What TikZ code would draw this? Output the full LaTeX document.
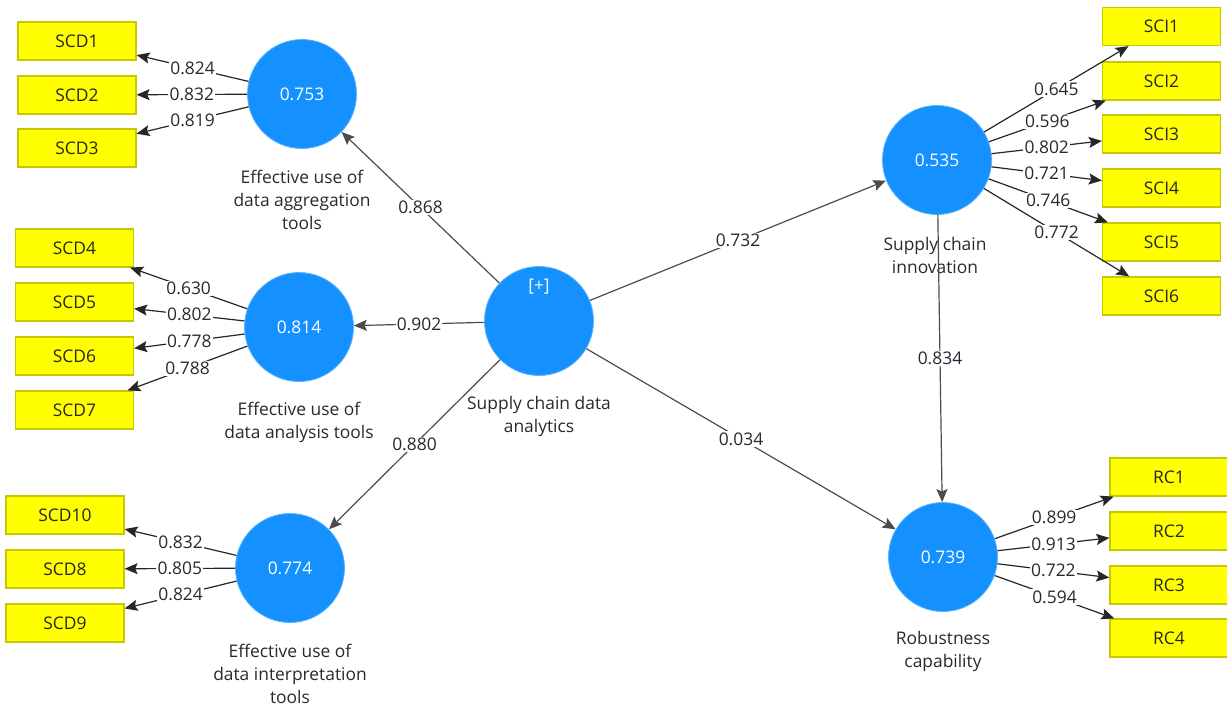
\documentclass[tikz,border=0pt]{standalone}
\usepackage{fontspec}
\setmainfont{Open Sans}
\usetikzlibrary{arrows.meta}
\definecolor{lvblue}{RGB}{20,145,255}
\definecolor{mvyellow}{RGB}{255,255,0}
\definecolor{mvborder}{RGB}{200,200,0}
\definecolor{txt}{RGB}{40,40,50}
\tikzset{
  lv/.style={circle, fill=lvblue, draw=lvblue!70!white, line width=0.4pt, minimum size=54.5pt, inner sep=0pt, text=white, font=\fontsize{8.7}{10}\selectfont},
  mv/.style={rectangle, fill=mvyellow, draw=mvborder, line width=0.6pt, minimum width=59pt, minimum height=19pt, inner sep=0pt, text=black!85, font=\fontsize{8.7}{10}\selectfont},
  lvcaption/.style={align=center, text=txt, font=\fontsize{8.7}{11.5}\selectfont, inner sep=0pt},
  lbl/.style={fill=white, inner sep=0.6pt, text=txt, font=\fontsize{8.7}{10}\selectfont},
  ld/.style={draw=black!85, line width=0.6pt, -{Stealth[length=6.5pt,width=5.5pt,inset=1.2pt]}},
  st/.style={draw=black!70, line width=0.6pt, -{Stealth[length=6.5pt,width=5.5pt,inset=1.2pt]}},
}
\begin{document}
\begin{tikzpicture}[x=0.5pt,y=-0.5pt]
\useasboundingbox (0,0) rectangle (1227,709);
% latent variables
\node[lv] (agg) at (302,94) {0.753};
\node[lv] (ana) at (299,327) {0.814};
\node[lv] (intp) at (290,568) {0.774};
\node[lv] (scda) at (539,321) {};
\node[lv] (sci) at (937,160) {0.535};
\node[lv] (rc) at (943,557) {0.739};
\node[text=white, font=\fontsize{8.7}{10}\selectfont] (plus) at (539,287) {[+]};
% captions
\node[lvcaption] (aggc) at (302,200) {Effective use of\\data aggregation\\tools};
\node[lvcaption] (anac) at (299,422) {Effective use of\\data analysis tools};
\node[lvcaption] (intpc) at (290,674) {Effective use of\\data interpretation\\tools};
\node[lvcaption] (scdac) at (539,416) {Supply chain data\\analytics};
\node[lvcaption] (scic) at (935,255) {Supply chain\\innovation};
\node[lvcaption] (rcc) at (943,651) {Robustness\\capability};
% indicators
\node[mv] (scd1) at (77,41) {SCD1};
\node[mv] (scd2) at (77,95) {SCD2};
\node[mv] (scd3) at (77,148) {SCD3};
\node[mv] (scd4) at (74.5,248) {SCD4};
\node[mv] (scd5) at (74.5,302) {SCD5};
\node[mv] (scd6) at (74.5,356) {SCD6};
\node[mv] (scd7) at (74.5,410) {SCD7};
\node[mv] (scd10) at (65,515) {SCD10};
\node[mv] (scd8) at (65,569) {SCD8};
\node[mv] (scd9) at (65,623) {SCD9};
\node[mv] (sci1) at (1161.5,26.5) {SCI1};
\node[mv] (sci2) at (1161.5,81) {SCI2};
\node[mv] (sci3) at (1161.5,134) {SCI3};
\node[mv] (sci4) at (1161.5,188) {SCI4};
\node[mv] (sci5) at (1161.5,242) {SCI5};
\node[mv] (sci6) at (1161.5,296) {SCI6};
\node[mv] (rc1) at (1169,477) {RC1};
\node[mv] (rc2) at (1169,531) {RC2};
\node[mv] (rc3) at (1169,585) {RC3};
\node[mv] (rc4) at (1169,638) {RC4};
% outer loadings
\draw[ld] (agg) -- node[lbl]{0.824} (scd1);
\draw[ld] (agg) -- node[lbl]{0.832} (scd2);
\draw[ld] (agg) -- node[lbl]{0.819} (scd3);
\draw[ld] (ana) -- node[lbl]{0.630} (scd4);
\draw[ld] (ana) -- node[lbl]{0.802} (scd5);
\draw[ld] (ana) -- node[lbl]{0.778} (scd6);
\draw[ld] (ana) -- node[lbl]{0.788} (scd7);
\draw[ld] (intp) -- node[lbl]{0.832} (scd10);
\draw[ld] (intp) -- node[lbl]{0.805} (scd8);
\draw[ld] (intp) -- node[lbl]{0.824} (scd9);
\draw[ld] (sci) -- node[lbl]{0.645} (sci1);
\draw[ld] (sci) -- node[lbl]{0.596} (sci2);
\draw[ld] (sci) -- node[lbl]{0.802} (sci3);
\draw[ld] (sci) -- node[lbl]{0.721} (sci4);
\draw[ld] (sci) -- node[lbl]{0.746} (sci5);
\draw[ld] (sci) -- node[lbl]{0.772} (sci6);
\draw[ld] (rc) -- node[lbl]{0.899} (rc1);
\draw[ld] (rc) -- node[lbl]{0.913} (rc2);
\draw[ld] (rc) -- node[lbl]{0.722} (rc3);
\draw[ld] (rc) -- node[lbl]{0.594} (rc4);
% structural paths
\draw[st] (scda) -- node[lbl]{0.868} (agg);
\draw[st] (scda) -- node[lbl]{0.902} (ana);
\draw[st] (scda) -- node[lbl]{0.880} (intp);
\draw[st] (scda) -- node[lbl]{0.732} (sci);
\draw[st] (scda) -- node[lbl]{0.034} (rc);
\draw[st] (sci) -- node[lbl]{0.834} (rc);
\end{tikzpicture}
\end{document}
